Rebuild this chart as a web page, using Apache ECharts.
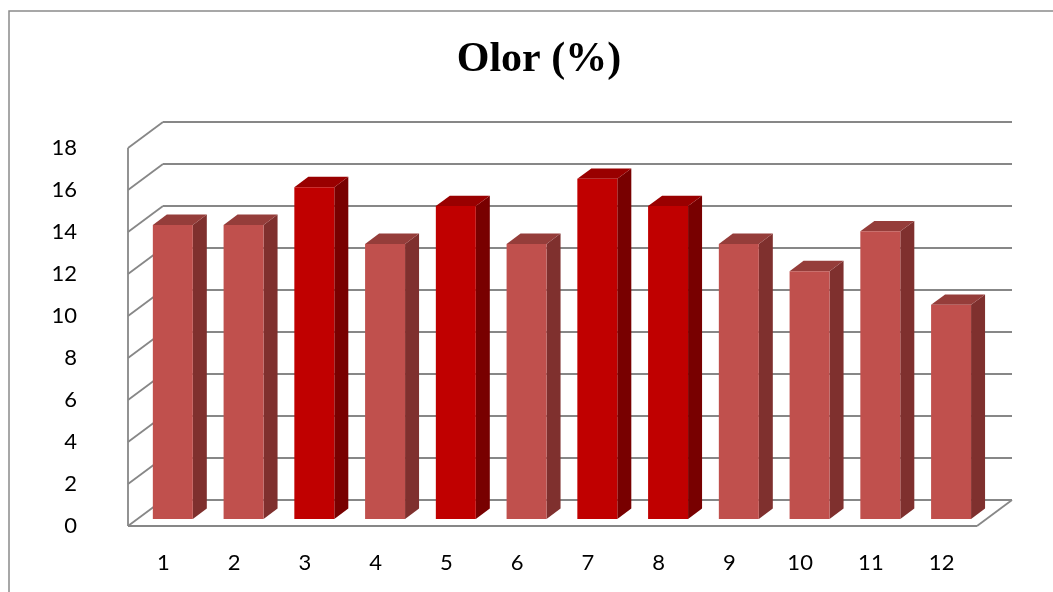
<!DOCTYPE html>
<html>
<head>
<meta charset="utf-8">
<title>Olor (%)</title>
<script src="https://cdn.jsdelivr.net/npm/echarts@6/dist/echarts.min.js"></script>
<style>
  html, body { margin: 0; padding: 0; background: #ffffff; }
  #chart { width: 1053px; height: 592px; }
</style>
</head>
<body>
<div id="chart"></div>
<script>
// Sample numbers along the x axis
const categories = ['1', '2', '3', '4', '5', '6', '7', '8', '9', '10', '11', '12'];
// Odour score per sample (%)
const olorValues = [14.0, 14.0, 15.8, 13.1, 14.9, 13.1, 16.2, 14.9, 13.1, 11.8, 13.7, 10.2];
// Samples shown in the darker red
const highlighted = ['3', '5', '7', '8'];
// Value axis ticks
const yTicks = [0, 2, 4, 6, 8, 10, 12, 14, 16, 18];

// 3D look: offset of the back wall relative to the front plane
const DEPTH = { dx: 35, dy: -26 };
const BAR_FRONT = 0.27;   // bar front face, as a fraction of the depth
const BAR_BACK = 0.67;    // bar back face
const BAR_WIDTH = 0.565;  // fraction of the category band
const GRID_COLOR = '#878787';

const palette = {
  normal: { front: '#c0504d', side: '#7f302e', top: '#953d3a' },
  strong: { front: '#c00000', side: '#780000', top: '#990000' }
};

const chart = echarts.init(document.getElementById('chart'));

function renderWall(params, api) {
  const cs = params.coordSys;
  const L = cs.x, R = cs.x + cs.width;
  const v = api.value(1);
  const y = api.coord([0, v])[1];
  const style = { stroke: GRID_COLOR, lineWidth: 1.8, fill: null };
  const children = [
    { type: 'line', shape: { x1: L + DEPTH.dx, y1: y + DEPTH.dy, x2: R + DEPTH.dx, y2: y + DEPTH.dy }, style },
    { type: 'line', shape: { x1: L, y1: y, x2: L + DEPTH.dx, y2: y + DEPTH.dy }, style }
  ];
  if (v === yTicks[0]) {
    const yTop = api.coord([0, yTicks[yTicks.length - 1]])[1];
    children.push(
      { type: 'line', shape: { x1: L, y1: y, x2: R, y2: y }, style },
      { type: 'line', shape: { x1: R, y1: y, x2: R + DEPTH.dx, y2: y + DEPTH.dy }, style },
      { type: 'line', shape: { x1: L, y1: y, x2: L, y2: yTop }, style }
    );
  }
  return { type: 'group', children };
}

function renderBar(params, api) {
  const idx = api.value(0);
  const val = api.value(1);
  const base = api.coord([idx, 0]);
  const top = api.coord([idx, val]);
  const band = api.size([1, 0])[0];
  const w = band * BAR_WIDTH;
  const fx = DEPTH.dx * BAR_FRONT, fy = DEPTH.dy * BAR_FRONT;
  const bx = DEPTH.dx * (BAR_BACK - BAR_FRONT), by = DEPTH.dy * (BAR_BACK - BAR_FRONT);
  const x0 = base[0] - w / 2 + fx, x1 = x0 + w;
  const y0 = base[1] + fy, y1 = top[1] + fy;
  const c = highlighted.includes(categories[idx]) ? palette.strong : palette.normal;
  return {
    type: 'group',
    children: [
      { type: 'polygon', shape: { points: [[x1, y0], [x1 + bx, y0 + by], [x1 + bx, y1 + by], [x1, y1]] },
        style: { fill: c.side } },
      { type: 'polygon', shape: { points: [[x0, y1], [x1, y1], [x1 + bx, y1 + by], [x0 + bx, y1 + by]] },
        style: { fill: c.top } },
      { type: 'rect', shape: { x: x0, y: y1, width: w, height: y0 - y1 },
        style: { fill: c.front } }
    ]
  };
}

chart.setOption({
  animation: false,
  backgroundColor: '#ffffff',
  title: {
    text: 'Olor (%)',
    left: 534,
    top: 34,
    textAlign: 'center',
    textStyle: { fontFamily: 'Liberation Serif', fontWeight: 'bold', fontSize: 42, color: '#000000' }
  },
  graphic: [{
    type: 'rect',
    shape: { x: 9, y: 11, width: 1200, height: 800 },
    style: { fill: null, stroke: '#8a8a8a', lineWidth: 1.5 },
    silent: true
  }],
  grid: { left: 128, right: 76, top: 148, bottom: 66 },
  xAxis: {
    type: 'category',
    data: categories,
    axisLine: { show: false },
    axisTick: { show: false },
    axisLabel: { margin: 26, fontFamily: 'Lato', fontSize: 22, color: '#000000' }
  },
  yAxis: {
    type: 'value',
    min: 0,
    max: 18,
    interval: 2,
    axisLine: { show: false },
    axisTick: { show: false },
    splitLine: { show: false },
    axisLabel: { margin: 51, fontFamily: 'Lato', fontSize: 22, color: '#000000' }
  },
  series: [
    {
      type: 'custom',
      name: 'walls',
      silent: true,
      z: 1,
      renderItem: renderWall,
      data: yTicks.map(t => [0, t])
    },
    {
      type: 'custom',
      name: 'Olor (%)',
      z: 2,
      renderItem: renderBar,
      data: olorValues.map((v, i) => [i, v])
    }
  ]
});
</script>
</body>
</html>
